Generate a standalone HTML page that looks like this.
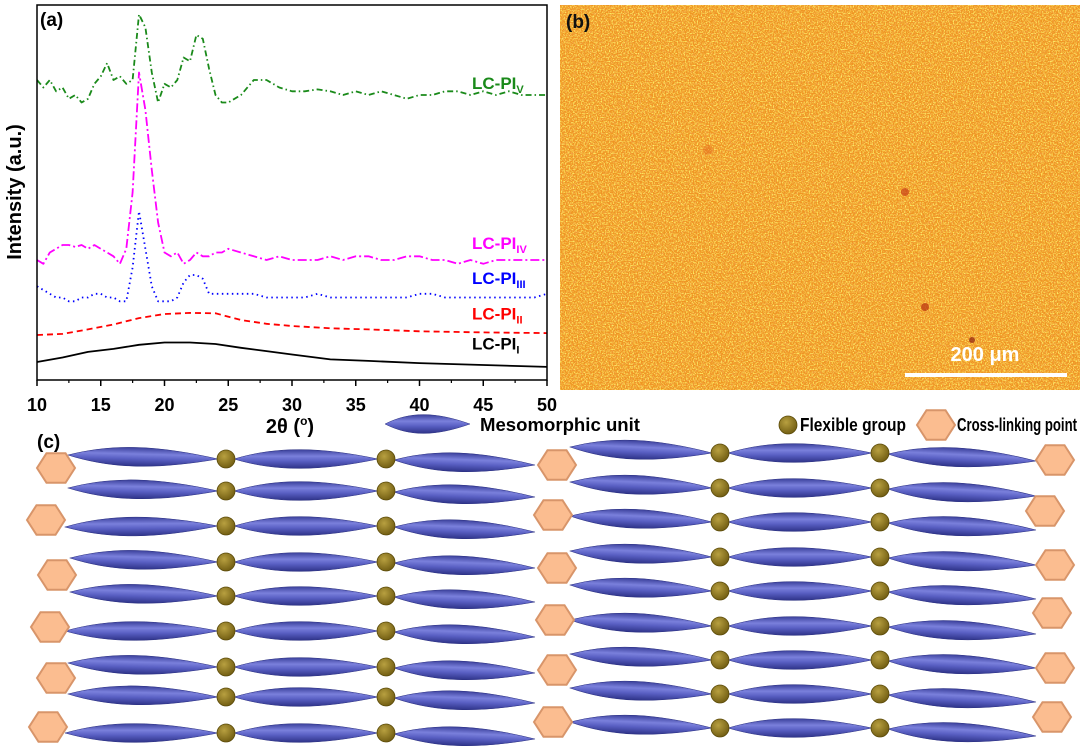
<!DOCTYPE html>
<html><head><meta charset="utf-8"><style>
html,body{margin:0;padding:0;background:#fff;}
svg{display:block;font-family:"Liberation Sans",Arial,sans-serif;}
</style></head><body>
<svg id="fig" width="1080" height="755" viewBox="0 0 1080 755" xmlns="http://www.w3.org/2000/svg">
<defs>
<linearGradient id="spg" x1="0" y1="0" x2="0" y2="1">
<stop offset="0" stop-color="#3a3f9a"/><stop offset="0.35" stop-color="#7a80dc"/><stop offset="0.6" stop-color="#5a60c4"/><stop offset="1" stop-color="#2e3388"/></linearGradient>
<radialGradient id="dotg" cx="0.4" cy="0.35" r="0.7"><stop offset="0" stop-color="#b8a040"/><stop offset="1" stop-color="#6e5a10"/></radialGradient>
<filter id="tex" x="0" y="0" width="100%" height="100%">
<feTurbulence type="fractalNoise" baseFrequency="0.75" numOctaves="2" seed="3" result="n"/>
<feColorMatrix in="n" type="matrix" values="0 0 0 0 1  0 0 0 0 0.9  0 0 0 0 0.15  0 0 0 3.2 -1.45"/>
</filter>
<filter id="tex2" x="0" y="0" width="100%" height="100%">
<feTurbulence type="fractalNoise" baseFrequency="0.6" numOctaves="2" seed="11" result="n"/>
<feColorMatrix in="n" type="matrix" values="0 0 0 0 0.88  0 0 0 0 0.35  0 0 0 0 0.08  0 0 0 3 -1.5"/>
</filter>
</defs>
<g id="panelB">
<rect x="560" y="5" width="520" height="385" fill="#ef9422"/>
<rect x="560" y="5" width="520" height="385" filter="url(#tex2)"/>
<rect x="560" y="5" width="520" height="385" filter="url(#tex)"/>
<circle cx="905" cy="192" r="4" fill="#c84018" opacity="0.7"/>
<circle cx="925" cy="307" r="4" fill="#b83010" opacity="0.7"/>
<circle cx="972" cy="340" r="3" fill="#902010" opacity="0.7"/>
<circle cx="708" cy="150" r="5" fill="#e0601c" opacity="0.4"/>
<text x="566" y="28" font-size="19" font-weight="bold" fill="#111">(b)</text>
<text x="985" y="361" font-size="20" font-weight="bold" fill="#fff" text-anchor="middle">200 μm</text>
<rect x="905" y="373" width="162" height="4" fill="#fff"/>
</g>
<g id="chart"></g>
<g id="schem"></g>
</svg>
<script>
const NS="http://www.w3.org/2000/svg";
// ---- chart data ----
const xHalf=[10,10.5,11,11.5,12,12.5,13,13.5,14,14.5,15,15.5,16,16.5,17,17.5,18,18.5,19,19.5,20,20.5,21,21.5,22,22.5,23,23.5,24,24.5,25,26,27,28,29,30,31,32,33,34,35,36,37,38,39,40,41,42,43,44,45,46,47,48,49,50];
const xSmooth=[10,12,14,16,18,20,22,24,26,28,30,33,36,40,45,50];
const yV=[80,78,80,77,78,75,76,74,75,79,81,84.5,80,81,79,80,97.5,94,82,74,79,78,80,86,85,92,91,83,76,74,74,76,80,80,78,77,77,77.5,77,76,77,76,77,76,75,76,76,77,77,76,77,76,77,76,76,76];
const yIV=[32,31,34,35,36,36,35.5,36,35,36,35,34,33,31,35,50,82,72,56,42,34,33,34,31,32,34,33,33,34,34,35,34,33,32,33,32,32,32,33,32,33,33,32,32,33,33,32,32,31,32,31,32,32,32,32,32];
const yIII=[25,24,23,22,22,21,21,22,22,23,23,22,22,21,21,30,45,35,25,21,21,21,22,26,28,28,27,23,23,23,23,23,23,22,22,22,22,23,22,22,22,22,22,22,22,23,23,22,22,22,22,22,22,22,22,23];
const yII=[12,12.3,13.5,14.8,16.5,17.6,17.9,17.8,16,15,14.4,13.8,13.5,13.0,12.7,12.5];
const yI=[4.8,6,7.5,8.3,9.4,10,10,9.6,8.6,7.7,6.8,5.5,5.1,4.5,4,3.5];
const xTicks=[10,15,20,25,30,35,40,45,50];
const seriesNames=["LC-PI","LC-PI","LC-PI","LC-PI","LC-PI"];
const subs=["V","IV","III","II","I"];

const X0=37,X1=547,Y0=380,Y1=5;
const sx=v=>X0+(v-10)/(50-10)*(X1-X0);
const sy=v=>Y0-(v/100)*(Y0-Y1);
const chart=document.getElementById('chart');
function mk(tag,attrs,parent){const e=document.createElementNS(NS,tag);for(const k in attrs)e.setAttribute(k,attrs[k]);(parent||chart).appendChild(e);return e;}

const series=[
 {xs:xHalf,ys:yV,color:"#1a8a1a",dash:"6,3,1.5,3",name:"series-lc-pi-v",lx:472,ly:sy(75)-10},
 {xs:xHalf,ys:yIV,color:"#ff00ff",dash:"9,3,2,3",name:"series-lc-pi-iv",lx:472,ly:sy(35)-0},
 {xs:xHalf,ys:yIII,color:"#0000ff",dash:"1.5,3.5",name:"series-lc-pi-iii",lx:472,ly:sy(24)-6},
 {xs:xSmooth,ys:yII,color:"#ff0000",dash:"6,4",name:"series-lc-pi-ii",lx:472,ly:sy(13.5)-10},
 {xs:xSmooth,ys:yI,color:"#000",dash:"",name:"series-lc-pi-i",lx:472,ly:sy(5)-12},
];
series.forEach((s,i)=>{
  const d=s.xs.map((x,j)=>(j?"L":"M")+sx(x).toFixed(1)+","+sy(s.ys[j]).toFixed(1)).join(" ");
  const p=mk('path',{d:d,fill:"none",stroke:s.color,"stroke-width":1.8,"stroke-dasharray":s.dash,"stroke-linejoin":"round"});
  
  
  const t=mk('text',{x:s.lx,y:s.ly,"font-size":17,"font-weight":"bold",fill:s.color});
  
  
  t.textContent=seriesNames[i];
  const ts=document.createElementNS(NS,'tspan');ts.setAttribute('font-size',11);ts.setAttribute('dy',4);ts.textContent=subs[i];t.appendChild(ts);
});
const frame=mk('rect',{x:X0,y:Y1,width:X1-X0,height:Y0-Y1,fill:"none",stroke:"#000","stroke-width":1.5});


xTicks.forEach((v,i)=>{
  const l=mk('line',{x1:sx(v),x2:sx(v),y1:Y0,y2:Y0+6,stroke:"#000","stroke-width":1.5});
  
  
  if(i<xTicks.length-1){const m=mk('line',{x1:sx(v+2.5),x2:sx(v+2.5),y1:Y0,y2:Y0+3,stroke:"#000","stroke-width":1.2});
  
  }
  const t=mk('text',{x:sx(v),y:411,"font-size":18,"font-weight":"bold","text-anchor":"middle"});
  
  
  t.textContent=v;
});
const xt=mk('text',{x:290,y:433,"font-size":20,"font-weight":"bold","text-anchor":"middle"});


xt.innerHTML='2θ (<tspan font-size="12" dy="-8">o</tspan><tspan dy="8">)</tspan>';
const yt=mk('text',{x:0,y:0,"font-size":20,"font-weight":"bold","text-anchor":"middle",transform:"translate(21,192) rotate(-90)"});


yt.textContent="Intensity (a.u.)";
const pa=mk('text',{x:40,y:26,"font-size":19,"font-weight":"bold"});


pa.textContent="(a)";

// ---- schematic ----
const sc=document.getElementById('schem');
function spindle(x1,y1,x2,y2,name){
  const dx=x2-x1,dy=y2-y1,L=Math.hypot(dx,dy),a=Math.atan2(dy,dx)*180/Math.PI;
  const p=mk('path',{d:`M0,0 C${L*0.3},-13 ${L*0.6},-12 ${L},0 C${L*0.6},12 ${L*0.3},13 0,0 Z`,fill:"url(#spg)",stroke:"#2a2f80","stroke-width":0.5,transform:`translate(${x1},${y1}) rotate(${a})`},sc);
  
  
}
function dot(x,y,name){const c=mk('circle',{cx:x,cy:y,r:9,fill:"url(#dotg)",stroke:"#5a4a08","stroke-width":0.8},sc);
  
  }
function hex(cx,cy,name){const r=19,pts=[];for(let k=0;k<6;k++){const a=Math.PI/3*k;pts.push((cx+r*Math.cos(a)).toFixed(1)+","+(cy+r*0.9*Math.sin(a)).toFixed(1));}
  const h=mk('polygon',{points:pts.join(" "),fill:"#fbbd90",stroke:"#d8956a","stroke-width":2},sc);
  
  }
// legend
spindle(385,424,470,424,'legend-mesomorphic-unit');
const lt1=mk('text',{x:480,y:431,"font-size":18,"font-weight":"bold",textLength:160,lengthAdjust:"spacingAndGlyphs"},sc);


lt1.textContent="Mesomorphic unit";
dot(788,425,'legend-flexible-group');
const lt2=mk('text',{x:800,y:431,"font-size":18,"font-weight":"bold",textLength:106,lengthAdjust:"spacingAndGlyphs"},sc);


lt2.textContent="Flexible group";
hex(936,425,'legend-cross-linking-point');
const lt3=mk('text',{x:957,y:431,"font-size":18,"font-weight":"bold",textLength:120,lengthAdjust:"spacingAndGlyphs"},sc);


lt3.textContent="Cross-linking point";
const pc=mk('text',{x:37,y:448,"font-size":19,"font-weight":"bold"},sc);


pc.textContent="(c)";
// left block
const rowsL=[459,491,526,562,596,631,667,697,733];
const startL=[[68,455],[68,488],[65,527],[70,558],[70,592],[65,631],[68,663],[68,694],[65,733]];
rowsL.forEach((y,i)=>{spindle(startL[i][0],startL[i][1],218,y);spindle(234,y,378,y);spindle(394,y+1,535,y+6);});
rowsL.forEach(y=>{dot(226,y);dot(386,y);});
[[56,468],[46,520],[57,575],[50,627],[56,678],[48,727]].forEach(p=>hex(p[0],p[1]));
// right block
const rowsR=[453,488,522,557,591,626,660,694,728];
rowsR.forEach((y,i)=>{spindle(570,y-6,712,y);spindle(728,y,872,y);spindle(888,y+1,1036,y+8);});
rowsR.forEach(y=>{dot(720,y);dot(880,y);});
[[557,465],[553,515],[557,568],[555,620],[557,670],[553,722]].forEach(p=>hex(p[0],p[1]));
[[1055,460],[1045,511],[1055,565],[1052,613],[1055,668],[1052,717]].forEach(p=>hex(p[0],p[1]));
</script>
</body></html>
